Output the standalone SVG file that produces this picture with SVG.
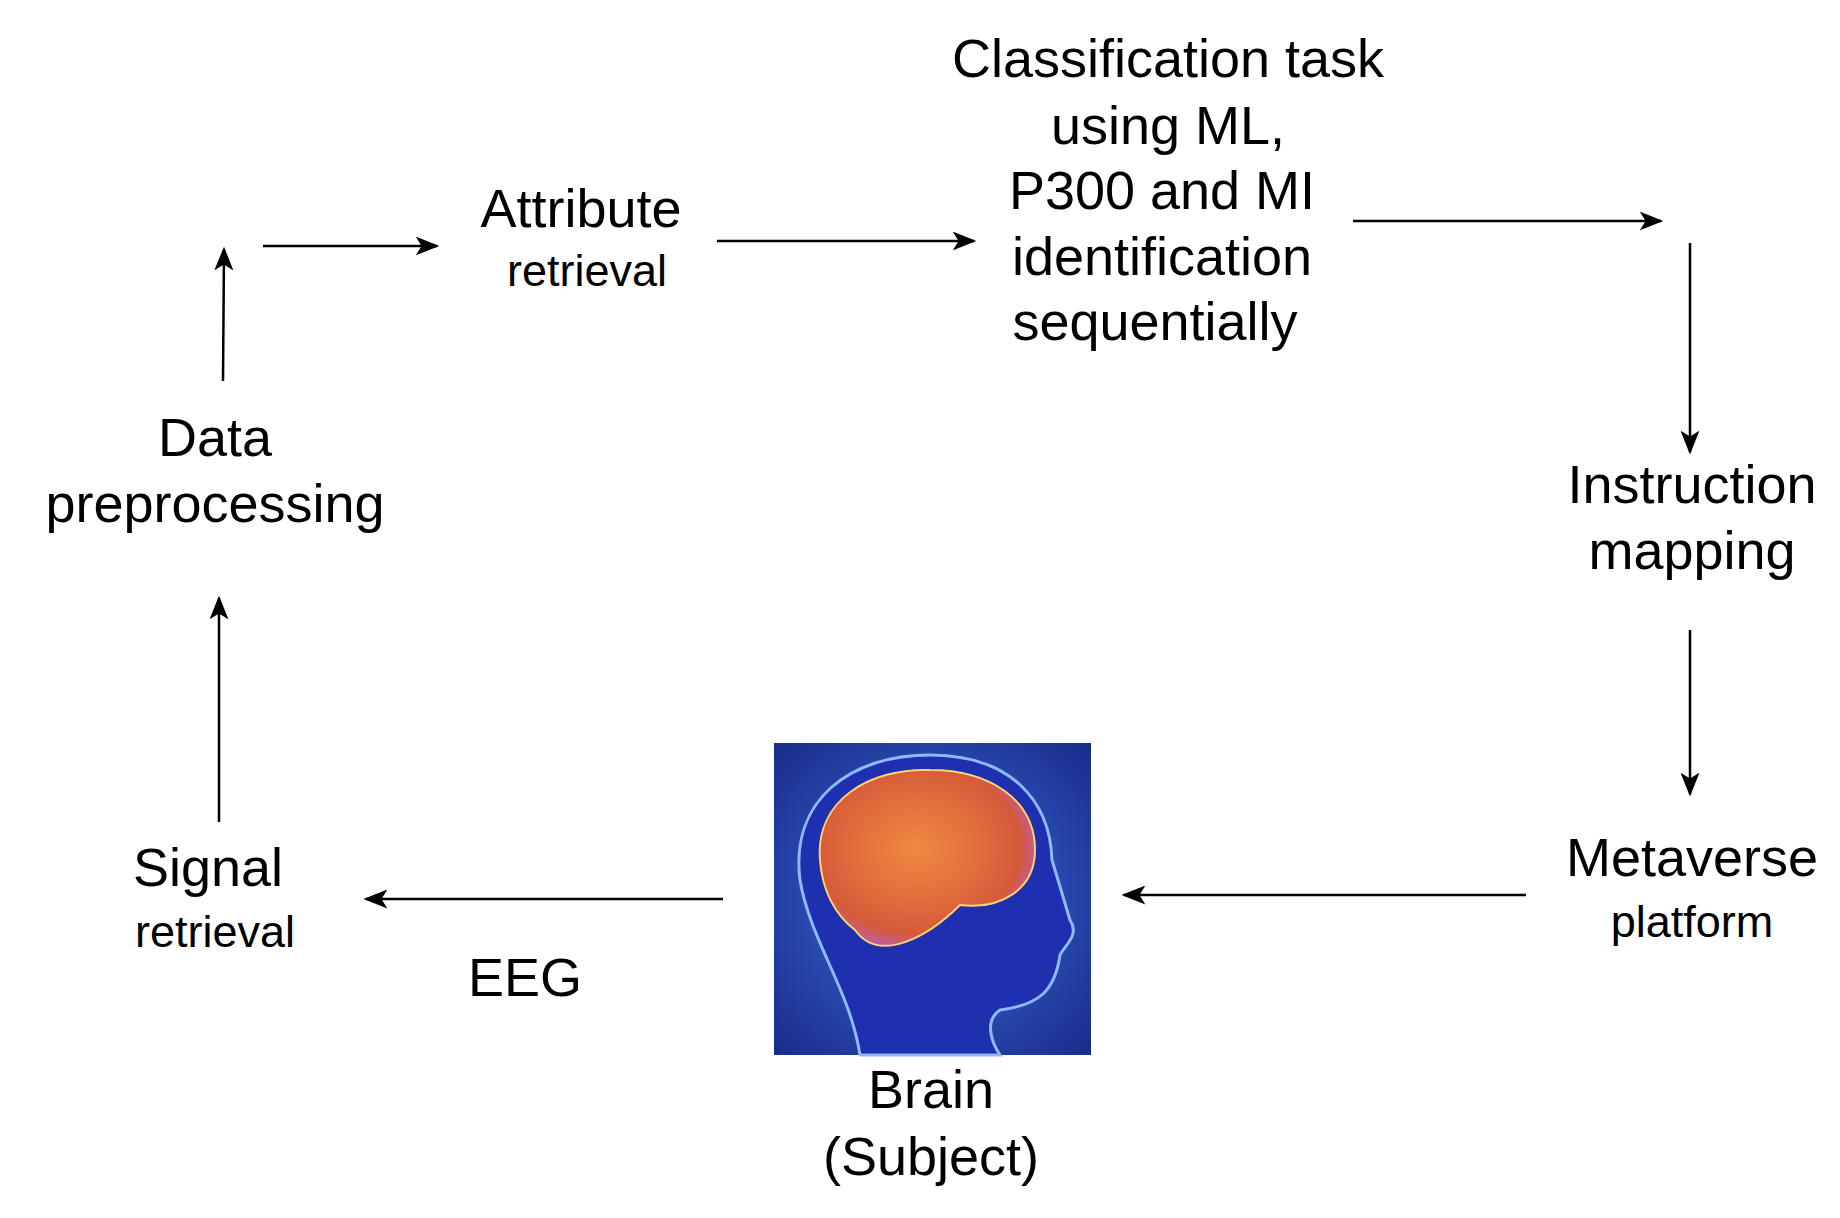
<svg xmlns="http://www.w3.org/2000/svg" width="1840" height="1218" viewBox="0 0 1840 1218">
<style>
text{font-family:"Liberation Sans",Arial,sans-serif;fill:#000;text-anchor:middle}
.b{font-size:54px}.s{font-size:45px}
.c line{stroke:#000;stroke-width:2.5;marker-end:url(#a)}
</style>
<defs>
<marker id="a" viewBox="0 0 20 16" refX="18" refY="8" markerWidth="24" markerHeight="19" markerUnits="userSpaceOnUse" orient="auto"><path d="M0,0 L20,8 L0,16 L5,8 Z" fill="#000"/></marker>
<radialGradient id="bg" cx="0.5" cy="0.5" r="0.7"><stop offset="0" stop-color="#3a6fe0"/><stop offset="1" stop-color="#1a2c8a"/></radialGradient>
<radialGradient id="br" cx="0.45" cy="0.45" r="0.6"><stop offset="0" stop-color="#f08a40"/><stop offset="0.8" stop-color="#d65a3a"/><stop offset="1" stop-color="#b85cc0"/></radialGradient>
</defs>
<g id="brain">
<rect x="774" y="743" width="317" height="312" fill="url(#bg)"/>
<path d="M860,1055 C850,990 810,940 800,880 C790,800 850,755 930,755 C1010,755 1050,800 1052,860 L1070,920 C1080,935 1065,945 1060,955 C1055,990 1040,1005 1000,1010 C985,1020 990,1040 1000,1055 Z" fill="#1e2fb0" stroke="#8fb8ff" stroke-width="3"/>
<path d="M820,860 C815,800 870,768 930,770 C990,770 1035,800 1035,850 C1035,890 1000,910 960,905 C930,935 880,965 855,930 C835,915 822,890 820,860 Z" fill="url(#br)" stroke="#ffd070" stroke-width="2"/>
</g>
<g id="labels">
<g id="classification"><text class="b" x="1168" y="77">Classification task</text><text class="b" x="1168" y="144">using ML,</text><text class="b" x="1162" y="209">P300 and MI</text><text class="b" x="1162" y="275">identification</text><text class="b" x="1155" y="340">sequentially</text></g>
<g id="attribute"><text class="b" x="581" y="227">Attribute</text><text class="s" x="587" y="286">retrieval</text></g>
<g id="data"><text class="b" x="215" y="456">Data</text><text class="b" x="215" y="522">preprocessing</text></g>
<g id="signal"><text class="b" x="208" y="886">Signal</text><text class="s" x="215" y="947">retrieval</text></g>
<g id="eeg"><text class="b" x="525" y="996">EEG</text></g>
<g id="brainlabel"><text class="b" x="931" y="1108">Brain</text><text class="b" x="931" y="1175">(Subject)</text></g>
<g id="instruction"><text class="b" x="1692" y="503">Instruction</text><text class="b" x="1692" y="569">mapping</text></g>
<g id="metaverse"><text class="b" x="1692" y="876">Metaverse</text><text class="s" x="1692" y="937">platform</text></g>
</g>
<g id="connectors" class="c">
<line x1="219" y1="822" x2="219" y2="598"/>
<line x1="223" y1="381" x2="224" y2="249"/>
<line x1="263" y1="246" x2="437" y2="246"/>
<line x1="717" y1="241" x2="974" y2="241"/>
<line x1="1353" y1="221" x2="1661" y2="221"/>
<line x1="1690" y1="243" x2="1690" y2="452"/>
<line x1="1690" y1="630" x2="1690" y2="794"/>
<line x1="1526" y1="895" x2="1124" y2="895"/>
<line x1="723" y1="899" x2="366" y2="899"/>
</g>
</svg>
